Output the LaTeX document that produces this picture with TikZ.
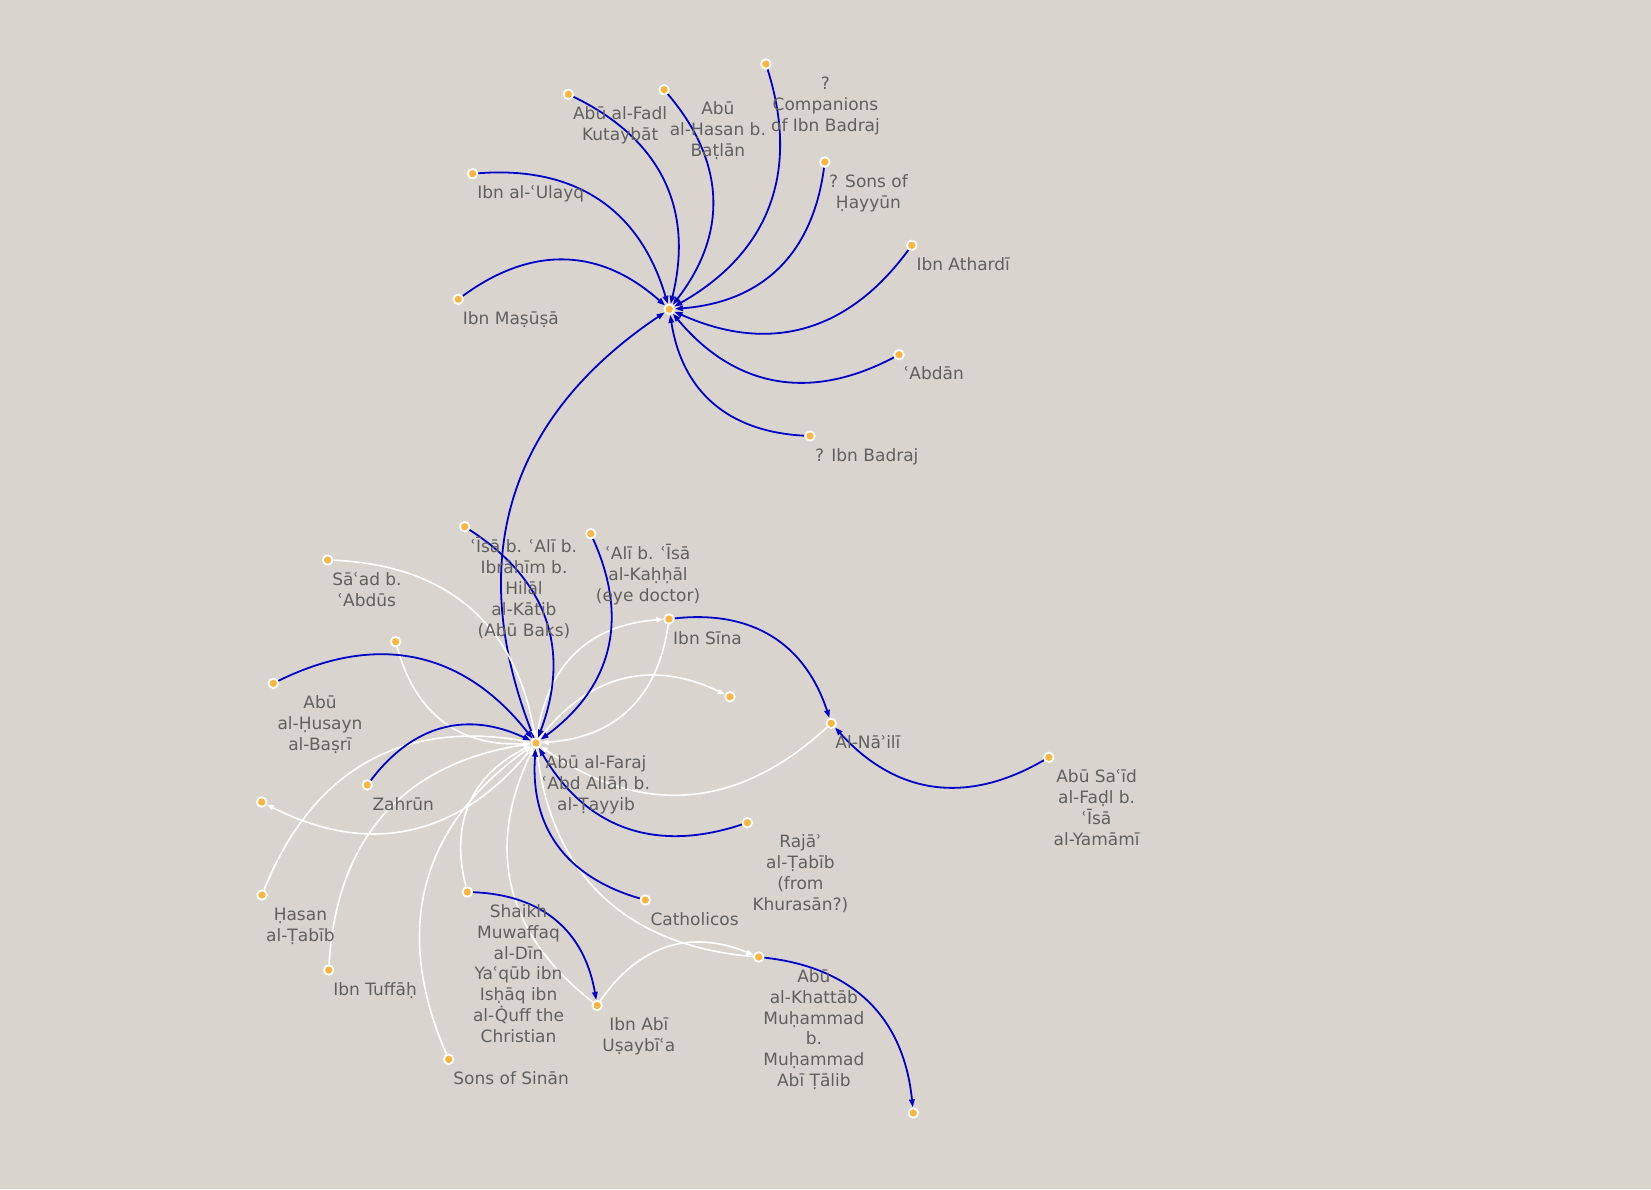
\documentclass[tikz,border=0pt]{standalone}
\usepackage{fontspec}
\setmainfont{DejaVu Sans}
\usetikzlibrary{arrows.meta}
\definecolor{bgc}{HTML}{D9D5CE}
\definecolor{eblue}{HTML}{0000C8}
\definecolor{dotc}{HTML}{FBB540}
\definecolor{txtc}{HTML}{606060}
\pgfdeclarelayer{bgl}
\pgfdeclarelayer{edgel}
\pgfsetlayers{bgl,edgel,main}
\newcommand\myst{\rule{0pt}{14.5bp}}
\begin{document}
\begin{tikzpicture}[x=1bp,y=-1bp,
  dot/.style={circle, fill=dotc, draw=white, line width=1.8bp, minimum size=9.5bp, inner sep=0pt},
  lbl/.style={anchor=north west, inner sep=0pt, align=center, text=txtc, font=\fontsize{17bp}{20.9bp}\selectfont},
  be/.style={draw=eblue, line width=1.8bp, -{Triangle[length=8bp,width=5.5bp]}, bend left=39, looseness=1.09},
  we/.style={draw=white, line width=1.6bp, -{Triangle[length=7bp,width=5bp]}, bend left=39, looseness=1.09},
  wr/.style={draw=white, line width=1.6bp, -{Triangle[length=7bp,width=5bp]}, bend right=39, looseness=1.09}]
\begin{pgfonlayer}{bgl}
\fill[bgc] (0,0) rectangle (1651,1189);
\end{pgfonlayer}
\useasboundingbox (0,0) rectangle (1651,1189);
% top cluster
\node[dot] (h1) at (669.3,309.3) {};
\node[dot] (fadl) at (568.4,94.3) {};
\node[dot] (batlan) at (664.1,89.7) {};
\node[dot] (comp) at (765.9,64) {};
\node[dot] (ulayq) at (472.6,173.7) {};
\node[dot] (hayyun) at (824.8,162) {};
\node[dot] (athardi) at (911.8,245.3) {};
\node[dot] (masusa) at (458.2,299.3) {};
\node[dot] (abdan) at (899,354.7) {};
\node[dot] (badraj) at (810,436) {};
% bottom cluster
\node[dot] (h2) at (536,743) {};
\node[dot] (isa) at (464.7,526.7) {};
\node[dot] (ali) at (590.7,533.7) {};
\node[dot] (saad) at (327.7,560) {};
\node[dot] (u1) at (395.7,641.7) {};
\node[dot] (husayn) at (273.3,683.3) {};
\node[dot] (sina) at (669,619) {};
\node[dot] (u2) at (730,696.7) {};
\node[dot] (naili) at (831.2,723.3) {};
\node[dot] (said) at (1048.9,757.3) {};
\node[dot] (zahrun) at (367.3,785) {};
\node[dot] (u3) at (261.7,802) {};
\node[dot] (raja) at (747.3,822.7) {};
\node[dot] (hasan) at (262,895) {};
\node[dot] (tuffah) at (328.7,970) {};
\node[dot] (sinan) at (448.7,1059.3) {};
\node[dot] (shaikh) at (467.3,892) {};
\node[dot] (usaybia) at (597.2,1005.5) {};
\node[dot] (cath) at (645.3,900) {};
\node[dot] (khattab) at (758.7,957) {};
\node[dot] (u4) at (913.3,1113) {};
% labels
\node[lbl] (fadlL) at ([shift={(4.5,10.5)}]fadl.center) {\myst Abū al-Fadl\\Kutaybāt};
\node[lbl] (batlanL) at ([shift={(5.5,10.5)}]batlan.center) {\myst Abū\\al-Ḥasan b.\\Baṭlān};
\node[lbl] (compL) at ([shift={(5,10.5)}]comp.center) {\myst ?\\Companions\\of Ibn Badraj};
\node[lbl] (ulayqL) at ([shift={(4.5,10.5)}]ulayq.center) {\myst Ibn al-ʿUlayq};
\node[lbl] (hayyunL) at ([shift={(4,10.5)}]hayyun.center) {\myst ? Sons of\\Ḥayyūn};
\node[lbl] (athardiL) at ([shift={(4.5,10.5)}]athardi.center) {\myst Ibn Athardī};
\node[lbl] (masusaL) at ([shift={(4.5,10.5)}]masusa.center) {\myst Ibn Maṣūṣā};
\node[lbl] (abdanL) at ([shift={(5,10.5)}]abdan.center) {\myst ʿAbdān};
\node[lbl] (badrajL) at ([shift={(5,10.5)}]badraj.center) {\myst ? Ibn Badraj};
\node[lbl] (h2L) at ([shift={(6,10.5)}]h2.center) {\myst Abū al-Faraj\\ʿAbd Allāh b.\\al-Ṭayyib};
\node[lbl] (isaL) at ([shift={(6,10.5)}]isa.center) {\myst ʿĪsā b. ʿAlī b.\\Ibrāhīm b.\\Hilāl\\al-Kātib\\(Abū Baks)};
\node[lbl] (aliL) at ([shift={(5,10.5)}]ali.center) {\myst ʿAlī b. ʿĪsā\\al-Kaḥḥāl\\(eye doctor)};
\node[lbl] (saadL) at ([shift={(4.5,10.5)}]saad.center) {\myst Sāʿad b.\\ʿAbdūs};
\node[lbl] (husaynL) at ([shift={(4,10.5)}]husayn.center) {\myst Abū\\al-Ḥusayn\\al-Baṣrī};
\node[lbl] (sinaL) at ([shift={(4,10.5)}]sina.center) {\myst Ibn Sīna};
\node[lbl] (nailiL) at ([shift={(4,10.5)}]naili.center) {\myst Al-Nāʾilī};
\node[lbl] (saidL) at ([shift={(4.5,10.5)}]said.center) {\myst Abū Saʿīd\\al-Faḍl b.\\ʿĪsā\\al-Yamāmī};
\node[lbl] (zahrunL) at ([shift={(5,10.5)}]zahrun.center) {\myst Zahrūn};
\node[lbl] (rajaL) at ([shift={(5,10.5)}]raja.center) {\myst Rajāʾ\\al-Ṭabīb\\(from\\Khurasān?)};
\node[lbl] (hasanL) at ([shift={(4,10.5)}]hasan.center) {\myst Ḥasan\\al-Ṭabīb};
\node[lbl] (tuffahL) at ([shift={(4.5,10.5)}]tuffah.center) {\myst Ibn Tuffāḥ};
\node[lbl] (sinanL) at ([shift={(4.5,10.5)}]sinan.center) {\myst Sons of Sinān};
\node[lbl] (shaikhL) at ([shift={(5.5,10.5)}]shaikh.center) {\myst Shaikh\\Muwaffaq\\al-Dīn\\Yaʿqūb ibn\\Isḥāq ibn\\al-Q̇uff the\\Christian};
\node[lbl] (usaybiaL) at ([shift={(5,10.5)}]usaybia.center) {\myst Ibn Abī\\Uṣaybīʿa};
\node[lbl] (cathL) at ([shift={(5,10.5)}]cath.center) {\myst Catholicos};
\node[lbl] (khattabL) at ([shift={(4.5,10.5)}]khattab.center) {\myst Abū\\al-Khattāb\\Muḥammad\\b.\\Muḥammad\\Abī Ṭālib};
% edges
\begin{pgfonlayer}{edgel}
\draw[be] (fadl) to (h1);
\draw[be] (batlan) to (h1);
\draw[be] (comp) to (h1);
\draw[be] (ulayq) to (h1);
\draw[be] (hayyun) to (h1);
\draw[be] (athardi) to (h1);
\draw[be] (masusa) to (h1);
\draw[be] (abdan) to (h1);
\draw[be] (badraj) to (h1);
\draw[be] (h2) to (h1);
% white edges
\draw[we] (h2) to (sina);
\draw[we] (sina) to (h2);
\draw[we] (h2) to (u2);
\draw[we] (naili) to (h2);
\draw[we] (h2) to (u3);
\draw[we] (saad) to (h2);
\draw[wr] (u1) to (h2);
\draw[we] (hasan) to (h2);
\draw[we] (tuffah) to (h2);
\draw[we] (sinan) to (h2);
\draw[we] (shaikh) to (h2);
\draw[we] (usaybia) to (h2);
\draw[we] (khattab) to (h2);
\draw[we] (usaybia) to (khattab);
% blue edges bottom
\draw[be] (husayn) to (h2);
\draw[be] (isa) to (h2);
\draw[be] (ali) to (h2);
\draw[be] (zahrun) to (h2);
\draw[be] (raja) to (h2);
\draw[be] (cath) to (h2);
\draw[be] (sina) to (naili);
\draw[be] (said) to (naili);
\draw[be] (shaikh) to (usaybia);
\draw[be] (khattab) to (u4);
\end{pgfonlayer}
\end{tikzpicture}
\end{document}
